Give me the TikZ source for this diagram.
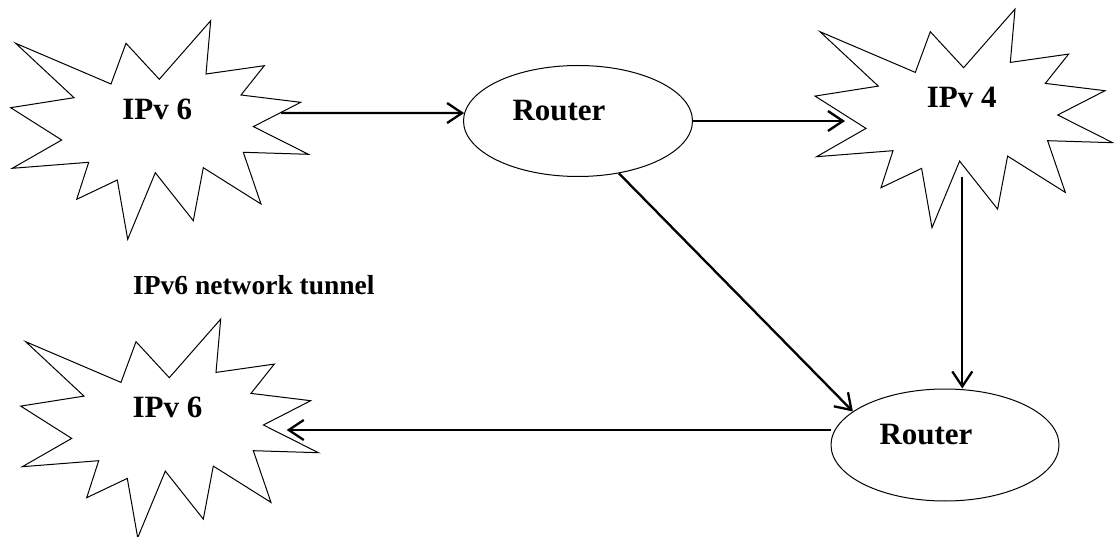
\documentclass[tikz,border=0pt]{standalone}
\usepackage{fontspec}
\setmainfont{Liberation Serif}
\usetikzlibrary{shapes.geometric,arrows.meta}
\begin{document}
\begin{tikzpicture}[x=1pt,y=-1pt,
  burstline/.style={draw=black,line width=1pt,line join=miter,fill=white},
  router/.style={ellipse,draw=black,line width=1pt,inner sep=0pt},
  lbl/.style={font=\fontsize{31}{36}\selectfont\bfseries,anchor=base,inner sep=0pt},
  note/.style={font=\fontsize{27.5}{32}\selectfont\bfseries,anchor=base west,inner sep=0pt},
  link/.style={line width=2.3pt,-{Straight Barb[length=15pt,width=20pt]}},
  pics/burst/.style={code={
    \draw[burstline] (-141.3,-66.7) -- (-46,-26) -- (-31,-66.7) -- (2.3,-30.7)
      -- (53.7,-89.3) -- (49,-36) -- (107.3,-44.3) -- (84,-15) -- (143.7,-7.7)
      -- (96.4,16.6) -- (151.4,44.3) -- (86.3,42.3) -- (104,94) -- (46.3,57.7)
      -- (36.3,110.7) -- (-1.7,62.7) -- (-29.3,129.3) -- (-39.7,70)
      -- (-80.3,89.3) -- (-68.3,52.3) -- (-144.7,58.3) -- (-95.3,30)
      -- (-146.3,-2.3) -- (-83,-12.3) -- cycle;
  }}]
\useasboundingbox (0,0) rectangle (1114,537);

% explosion-shaped networks
\pic (s1) at (157,110) {burst};
\pic (s2) at (961.3,98.4) {burst};
\pic (s3) at (167,408.4) {burst};
\node[lbl] (t1) at (157.2,119.3) {IPv 6};
\node[lbl] (t2) at (961.7,107.7) {IPv 4};
\node[lbl] (t3) at (167.5,417.3) {IPv 6};

% routers
\node[router,minimum width=229pt,minimum height=111pt] (r1) at (578,121) {};
\node[router,minimum width=228pt,minimum height=112pt] (r2) at (945,445) {};
\node[lbl] (rt1) at (559,120.7) {Router};
\node[lbl] (rt2) at (926,444) {Router};

% caption
\node[note] (cap) at (133,294.3) {IPv6 network tunnel};

% arrow end points inside the bursts
\coordinate (s1e) at (281,113);
\coordinate (s2w) at (845,121);
\coordinate (s2s) at (962.3,177);
\coordinate (s3e) at (286.7,430);

% links
\draw[link] (s1e) -- (r1.176);
\draw[link] (r1.east) -- (s2w);
\draw[link] (s2s) -- (s2s |- r2.north);
\draw[link] (r1.-52) -- (r2.160);
\draw[link] ([yshift=15pt]r2.west) -- (s3e);
\end{tikzpicture}
\end{document}
